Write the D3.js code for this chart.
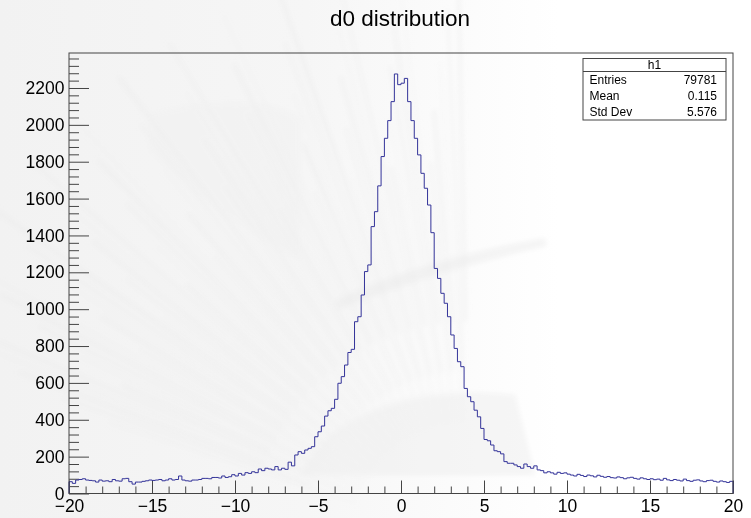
<!DOCTYPE html>
<html>
<head>
<meta charset="utf-8">
<script src="https://cdn.jsdelivr.net/npm/d3@7"></script>
<style>
  html, body { margin: 0; padding: 0; background: #ffffff; }
  svg { display: block; }
  text { font-family: "Liberation Sans", Arial, Helvetica, sans-serif; fill: #000; }
</style>
</head>
<body>
<svg id="chart" width="751" height="518"></svg>
<script>
// Histogram h1: d0, 200 bins from -20 to 20
const xRange = [-20, 20];
const binCounts = [
  64, 55, 73, 76, 80, 73, 71, 69, 62, 73,
  67, 69, 64, 76, 69, 67, 80, 82, 64, 51,
  62, 62, 66, 69, 73, 71, 73, 76, 69, 73,
  80, 73, 76, 95, 73, 69, 67, 73, 73, 76,
  82, 82, 80, 87, 87, 84, 95, 87, 91, 102,
  95, 109, 100, 113, 109, 118, 113, 133, 124, 137,
  133, 128, 146, 128, 137, 131, 170, 150, 209, 227,
  218, 236, 245, 254, 308, 335, 366, 420, 449, 462,
  511, 598, 634, 697, 765, 782, 932, 959, 1077, 1204,
  1240, 1448, 1529, 1669, 1828, 1927, 2023, 2126, 2276, 2218,
  2226, 2252, 2126, 2023, 1927, 1837, 1737, 1656, 1565, 1415,
  1221, 1167, 1086, 1032, 959, 860, 787, 715, 688, 570,
  525, 498, 452, 416, 353, 293, 286, 263, 232, 227,
  215, 173, 164, 164, 155, 146, 137, 160, 146, 137,
  150, 128, 124, 112, 118, 112, 105, 115, 109, 112,
  105, 100, 95, 104, 98, 92, 100, 96, 90, 99,
  93, 88, 92, 86, 84, 90, 86, 80, 85, 88,
  82, 78, 85, 80, 76, 80, 75, 78, 72, 82,
  74, 70, 76, 72, 68, 78, 70, 66, 72, 74,
  68, 64, 70, 72, 66, 62, 68, 64, 60, 66
];

// Axis ticks
const xMajorTicks = [-20, -15, -10, -5, 0, 5, 10, 15, 20];
const yMajorTicks = [0, 200, 400, 600, 800, 1000, 1200, 1400, 1600, 1800, 2000, 2200];

// Title and statistics box
const titleText = "d0 distribution";
const statsName = "h1";
const statsLabels = ["Entries", "Mean", "Std Dev"];
const statsValues = ["79781", "0.115", "5.576"];

const W = 751, H = 518;
const frame = { left: 69, right: 733, top: 53, bottom: 493.5 };

const svg = d3.select("#chart");
const defs = svg.append("defs");

// Faint canvas backdrop: soft grey fan of brush strokes on the left half
const grad = defs.append("linearGradient").attr("id", "bgfade")
  .attr("x1", "0").attr("x2", "1").attr("y1", "0").attr("y2", "0");
grad.append("stop").attr("offset", "0").attr("stop-color", "#f2f2f2");
grad.append("stop").attr("offset", "0.55").attr("stop-color", "#f6f6f6");
grad.append("stop").attr("offset", "1").attr("stop-color", "#ffffff");
defs.append("filter").attr("id", "soft")
  .attr("x", "-10%").attr("y", "-10%").attr("width", "120%").attr("height", "120%")
  .append("feGaussianBlur").attr("stdDeviation", 2.5);

svg.append("rect").attr("x", 0).attr("y", 0).attr("width", 560).attr("height", H)
  .attr("fill", "url(#bgfade)");

const bg = svg.append("g").attr("filter", "url(#soft)");
const fanOrigin = [470, 540];
d3.range(0, 60).forEach(k => {
  const a = (198 + k * 1.2) * Math.PI / 180;
  const len = 380 + (k % 5) * 50;
  const r0 = 120 + (k % 3) * 50;
  bg.append("line")
    .attr("x1", fanOrigin[0] + r0 * Math.cos(a)).attr("y1", fanOrigin[1] + r0 * Math.sin(a))
    .attr("x2", fanOrigin[0] + len * Math.cos(a)).attr("y2", fanOrigin[1] + len * Math.sin(a))
    .attr("stroke", "#e8e8e8").attr("stroke-width", 1 + (k % 3))
    .attr("stroke-linecap", "round").attr("opacity", 0.45);
});
// lighter sweeps in the middle of the frame
bg.append("path")
  .attr("d", "M300,475 C330,410 420,385 515,395 L535,475 Z")
  .attr("fill", "#eeeeee").attr("opacity", 0.55);
bg.append("path")
  .attr("d", "M335,300 C395,272 465,252 545,238 L547,246 C470,262 400,286 338,310 Z")
  .attr("fill", "#e8e8e8").attr("opacity", 0.45);
bg.append("path")
  .attr("d", "M150,115 C220,95 280,100 300,120 L300,260 C260,240 200,200 150,150 Z")
  .attr("fill", "#f0f0f0").attr("opacity", 0.45);

const nBins = binCounts.length;
const binWidth = (xRange[1] - xRange[0]) / nBins;
const yTop = 1.05 * d3.max(binCounts);

const x = d3.scaleLinear().domain(xRange).range([frame.left, frame.right]);
const y = d3.scaleLinear().domain([0, yTop]).range([frame.bottom, frame.top]);

const fmt = d => (d < 0 ? "\u2212" + Math.abs(d) : String(d));
const fontSize = 17.5;

// Minor ticks
const xMinor = d3.range(xRange[0], xRange[1] + 0.001, 1).filter(v => !xMajorTicks.includes(v));
const yMinor = d3.range(0, yTop, 40).filter(v => v % 200 !== 0);

// x axis (ticks point into the frame)
const gx = svg.append("g").attr("transform", `translate(0,${frame.bottom})`);
gx.call(d3.axisBottom(x).tickValues(xMajorTicks).tickFormat(fmt).tickSize(-13).tickPadding(6));
const gxm = svg.append("g").attr("transform", `translate(0,${frame.bottom})`);
gxm.call(d3.axisBottom(x).tickValues(xMinor).tickFormat("").tickSize(-7));

// y axis
const gy = svg.append("g").attr("transform", `translate(${frame.left},0)`);
gy.call(d3.axisLeft(y).tickValues(yMajorTicks).tickFormat(fmt).tickSize(-20).tickPadding(4.5));
const gym = svg.append("g").attr("transform", `translate(${frame.left},0)`);
gym.call(d3.axisLeft(y).tickValues(yMinor).tickFormat("").tickSize(-10));

svg.selectAll(".domain").remove();
svg.selectAll(".tick line").attr("stroke", "#444").attr("stroke-width", 1);
svg.selectAll(".tick text")
  .attr("font-size", fontSize)
  .attr("font-family", '"Liberation Sans", Arial, Helvetica, sans-serif')
  .attr("fill", "#000");

// Histogram outline
const pts = [[xRange[0], 0]];
binCounts.forEach((c, i) => pts.push([xRange[0] + i * binWidth, c]));
pts.push([xRange[1], binCounts[nBins - 1]]);
pts.push([xRange[1], 0]);
const line = d3.line().x(d => x(d[0])).y(d => y(d[1])).curve(d3.curveStepAfter);
svg.append("path")
  .datum(pts)
  .attr("d", line)
  .attr("fill", "none")
  .attr("stroke", "#333399")
  .attr("stroke-width", 1);

// Frame
svg.append("rect")
  .attr("x", frame.left).attr("y", frame.top)
  .attr("width", frame.right - frame.left).attr("height", frame.bottom - frame.top)
  .attr("fill", "none").attr("stroke", "#444").attr("stroke-width", 1);

// Title
svg.append("text")
  .attr("x", 400).attr("y", 26)
  .attr("text-anchor", "middle")
  .attr("font-size", 22.5)
  .text(titleText);

// Statistics box
const box = { x0: 583, x1: 726, y0: 58.5, y1: 120, header: 71.5 };
const sb = svg.append("g");
sb.append("rect")
  .attr("x", box.x0).attr("y", box.y0)
  .attr("width", box.x1 - box.x0).attr("height", box.y1 - box.y0)
  .attr("fill", "#fff").attr("stroke", "#444").attr("stroke-width", 1);
sb.append("line")
  .attr("x1", box.x0).attr("x2", box.x1)
  .attr("y1", box.header).attr("y2", box.header)
  .attr("stroke", "#444").attr("stroke-width", 1);
sb.append("text")
  .attr("x", (box.x0 + box.x1) / 2).attr("y", 69)
  .attr("text-anchor", "middle").attr("font-size", 12)
  .text(statsName);
const rowH = (box.y1 - box.header) / statsLabels.length;
statsLabels.forEach((lab, i) => {
  const by = box.header + rowH * (i + 0.5) + 4.3;
  sb.append("text").attr("x", box.x0 + 6.5).attr("y", by).attr("font-size", 12).text(lab);
  sb.append("text").attr("x", box.x1 - 9).attr("y", by).attr("text-anchor", "end").attr("font-size", 12).text(statsValues[i]);
});
</script>
</body>
</html>
